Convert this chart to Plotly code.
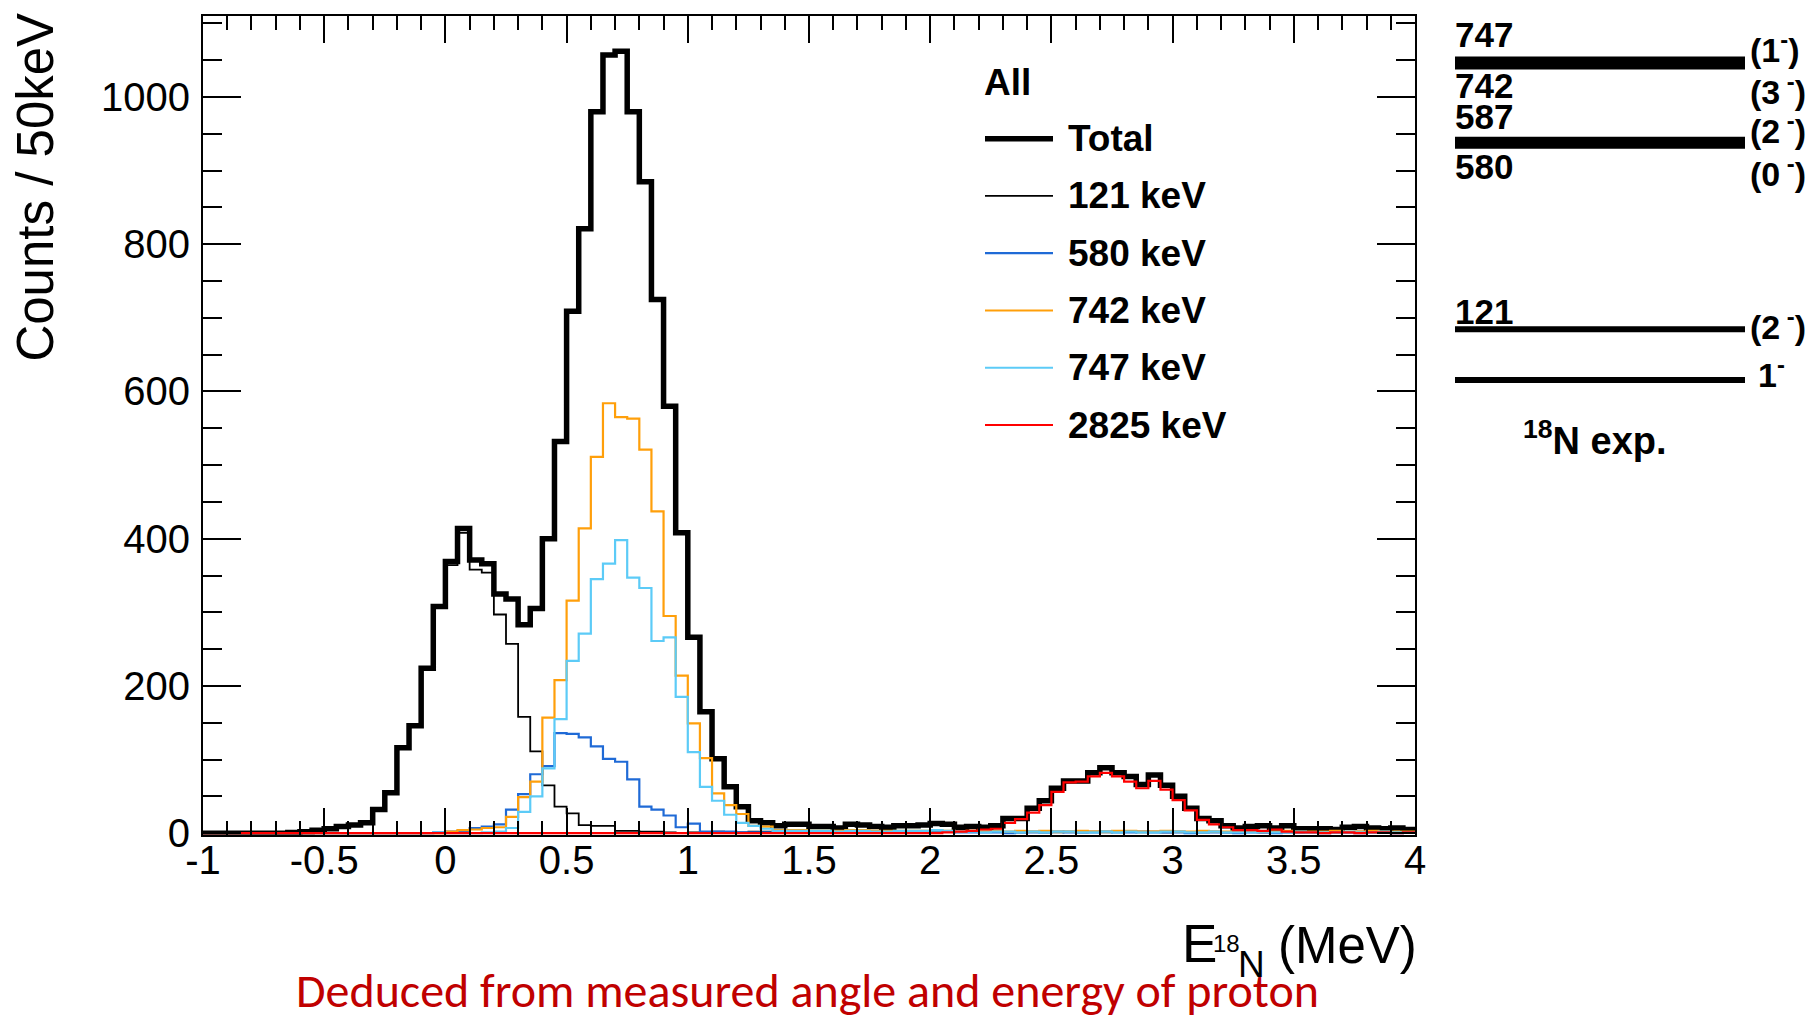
import numpy as np
import plotly.graph_objects as go

# ---------------- data (counts per 50 keV bin, 100 bins from -1 to 4 MeV) -------------
bin_low = -1.0
bin_width = 0.05
n_bins = 100

total = [0, 0, 0, 0, 0, 0, 0, 1, 2, 4,
         6, 9, 11, 14, 32, 55, 116, 146, 224, 308,
         369, 414, 371, 366, 325, 318, 283, 305, 400, 532,
         709, 821, 980, 1057, 1062, 980, 885, 725, 580, 408,
         266, 165, 101, 63, 36, 17, 14, 10, 12, 12,
         9, 9, 7, 12, 11, 9, 8, 10, 10, 11,
         13, 12, 8, 9, 8, 10, 20, 20, 34, 44,
         61, 71, 71, 82, 89, 82, 77, 66, 79, 65,
         50, 34, 20, 17, 10, 7, 9, 10, 7, 10,
         6, 6, 6, 5, 8, 9, 7, 6, 7, 5]

kev121 = [0, 0, 0, 0, 0, 0, 0, 1, 2, 4,
          6, 9, 11, 14, 32, 55, 116, 146, 224, 306,
          364, 408, 358, 354, 297, 257, 158, 111, 65, 36,
          27, 11, 10, 10, 3, 3, 2, 2, 1, 0,
          1, 1, 2, 1, 1, 2, 2, 2, 3, 3,
          2, 2, 1, 3, 3, 2, 2, 3, 2, 3,
          3, 3, 2, 2, 2, 2, 1, 1, 2, 1,
          1, 2, 1, 2, 1, 2, 2, 1, 2, 1,
          2, 1, 1, 2, 1, 1, 2, 1, 2, 1,
          1, 1, 2, 1, 1, 2, 1, 1, 1, 1]

kev580 = [0, 0, 0, 0, 0, 0, 0, 0, 0, 0,
          0, 0, 0, 0, 0, 0, 0, 0, 0, 1,
          2, 3, 7, 9, 12, 32, 53, 80, 91, 136,
          135, 130, 118, 101, 97, 73, 36, 32, 24, 8,
          13, 2, 2, 2, 1, 1, 1, 1, 2, 2,
          1, 1, 1, 2, 1, 2, 1, 1, 2, 2,
          2, 2, 1, 1, 1, 1, 0, 1, 1, 1,
          2, 1, 1, 1, 2, 1, 1, 2, 1, 1,
          1, 0, 1, 1, 1, 0, 1, 1, 0, 1,
          1, 1, 0, 1, 1, 0, 1, 1, 0, 1]

kev742 = [0, 0, 0, 0, 0, 0, 0, 0, 0, 0,
          0, 0, 0, 0, 0, 0, 0, 0, 0, 0,
          2, 4, 5, 7, 8, 22, 49, 70, 157, 208,
          316, 414, 511, 584, 565, 563, 521, 437, 295, 214,
          149, 102, 54, 38, 26, 10, 9, 4, 4, 4,
          3, 3, 3, 4, 4, 3, 3, 3, 3, 3,
          4, 3, 2, 3, 2, 3, 2, 3, 2, 3,
          2, 2, 3, 2, 2, 3, 3, 2, 2, 3,
          2, 2, 3, 2, 2, 2, 3, 2, 2, 3,
          2, 2, 2, 3, 2, 2, 3, 2, 2, 2]

kev747 = [0, 0, 0, 0, 0, 0, 0, 0, 0, 0,
          0, 0, 0, 0, 0, 0, 0, 0, 0, 1,
          0, 0, 0, 1, 2, 7, 29, 50, 88, 155,
          234, 271, 345, 366, 398, 347, 333, 261, 266, 185,
          110, 63, 44, 25, 14, 10, 6, 3, 3, 3,
          3, 3, 2, 3, 3, 2, 2, 3, 3, 3,
          4, 3, 2, 2, 1, 2, 2, 1, 2, 1,
          2, 2, 1, 1, 2, 1, 2, 1, 1, 2,
          2, 1, 1, 2, 1, 1, 1, 2, 1, 1,
          2, 1, 1, 1, 2, 1, 1, 2, 1, 1]

kev2825 = [0, 0, 0, 0, 0, 0, 0, 0, 0, 0,
           0, 0, 0, 0, 0, 0, 0, 0, 0, 0,
           0, 0, 0, 0, 0, 0, 0, 0, 0, 0,
           0, 0, 0, 0, 0, 0, 0, 0, 0, 0,
           0, 0, 0, 0, 0, 0, 0, 0, 0, 0,
           0, 0, 0, 0, 0, 0, 0, 0, 0, 0,
           0, 1, 2, 3, 5, 6, 14, 19, 28, 38,
           56, 69, 70, 77, 82, 77, 70, 61, 71, 59,
           45, 31, 18, 12, 8, 4, 4, 3, 5, 2,
           1, 1, 0, 1, 1, 0, 1, 1, 0, 1]

series_names = ["Total", "121 keV", "580 keV", "742 keV", "747 keV", "2825 keV"]
series_values = [total, kev121, kev580, kev742, kev747, kev2825]
series_colors = ["#000000", "#000000", "#1f6ad6", "#ff9f0a", "#5ccbf7", "#ff0000"]
series_widths = [5.5, 1.8, 2.2, 2.2, 2.2, 2.2]

x_tickvals = [-1, -0.5, 0, 0.5, 1, 1.5, 2, 2.5, 3, 3.5, 4]
x_ticktext = ["-1", "-0.5", "0", "0.5", "1", "1.5", "2", "2.5", "3", "3.5", "4"]
y_tickvals = [0, 200, 400, 600, 800, 1000]
y_ticktext = ["0", "200", "400", "600", "800", "1000"]

level_energies = ["747", "742", "587", "580", "121"]
level_spins = ["(1<sup>-</sup>)", "(3<sup> -</sup>)", "(2<sup> -</sup>)", "(0<sup> -</sup>)",
               "(2<sup> -</sup>)"]

# ---------------- geometry helpers (layout only) ----------------
# the page body has an 8px margin, so the figure is shrunk by that amount and
# every position below is given in the coordinates of the full 1820x1017 window
OFF = 8
W, H = 1820 - OFF, 1017 - OFF
L, R, T, B = 203, 1415, 14, 835      # plot area in window pixels


def px(x):
    return (x - L) / (R - L)


def py(y):
    return (B - y) / (B - T)


FONT = "Liberation Sans, Arial, Helvetica, sans-serif"

edges = np.round(bin_low + bin_width * np.arange(n_bins + 1), 4)

fig = go.Figure()
for name, vals, col, lw in zip(series_names, series_values, series_colors, series_widths):
    yv = list(vals) + [vals[-1]]
    fig.add_trace(go.Scatter(x=edges, y=yv, mode="lines", name=name,
                             line=dict(color=col, width=lw, shape="hv"),
                             showlegend=False, hoverinfo="skip"))

axis_common = dict(showline=True, linewidth=2, linecolor="black", mirror="ticks",
                   ticks="inside", tickwidth=2, tickcolor="black",
                   showgrid=False, zeroline=False,
                   tickfont=dict(family=FONT, size=40, color="black"))

fig.update_xaxes(range=[-1, 4], tickmode="array", tickvals=x_tickvals, ticktext=x_ticktext,
                 ticklen=27, ticklabelstandoff=-11,
                 minor=dict(dtick=0.1, tick0=-1, ticklen=14, tickwidth=2, tickcolor="black",
                            ticks="inside", showgrid=False),
                 **axis_common)
fig.update_yaxes(range=[-2.5, 1110], tickmode="array", tickvals=y_tickvals, ticktext=y_ticktext,
                 ticklen=38, ticklabelstandoff=3,
                 minor=dict(dtick=50, tick0=0, ticklen=19, tickwidth=2, tickcolor="black",
                            ticks="inside", showgrid=False),
                 **axis_common)

annotations = []
shapes = []


def ann(text, x, y, size, xanchor="left", yanchor="middle", bold=False, color="black",
        family=FONT, angle=0):
    annotations.append(dict(text=("<b>%s</b>" % text) if bold else text,
                            x=px(x), y=py(y), xref="paper", yref="paper",
                            xanchor=xanchor, yanchor=yanchor, showarrow=False,
                            textangle=angle,
                            font=dict(family=family, size=size, color=color)))


# axis titles
ann("Counts / 50keV", 36, 186, 51, xanchor="center", yanchor="middle", angle=-90)
ann("(MeV)", 1419, 946, 51, xanchor="right")
ann("N", 1236, 965, 37, xanchor="left")
ann("18", 1242, 944, 24, xanchor="right")
ann("E", 1219, 944, 53, xanchor="right")

# legend (manual, ROOT style)
ann("All", 982, 81, 37, bold=True)
leg_y0, leg_dy = 137, 57.4
for k, (name, col, lw) in enumerate(zip(series_names, series_colors, series_widths)):
    yy = leg_y0 + k * leg_dy
    shapes.append(dict(type="line", xref="paper", yref="paper",
                       x0=px(985), x1=px(1053), y0=py(yy), y1=py(yy),
                       line=dict(color=col, width=lw)))
    ann(name, 1066, yy, 37, bold=True)

# level scheme
level_lines = [(61, 13), (141, 12), (328, 6), (379, 6)]
for yy, lw in level_lines:
    shapes.append(dict(type="line", xref="paper", yref="paper",
                       x0=px(1455), x1=px(1745), y0=py(yy), y1=py(yy),
                       line=dict(color="black", width=lw)))
energy_y = [33, 84, 115, 165, 310]
spin_y = [46, 88, 127, 170, 323]
for lab, spin, ly, sy in zip(level_energies, level_spins, energy_y, spin_y):
    ann(lab, 1453, ly, 35, bold=True)
    ann(spin, 1748, sy, 34, bold=True)
ann("1<sup>-</sup>", 1756, 371, 34, bold=True)
ann("<sup>18</sup>N exp.", 1521, 437, 38, bold=True)

# caption
ann("Deduced from measured angle and energy of proton", 807, 991, 48,
    xanchor="center", color="#c00000", family="Carlito, Lato, Open Sans, sans-serif")

fig.update_layout(width=W, height=H,
                  margin=dict(l=L - OFF, r=W - (R - OFF), t=T - OFF, b=H - (B - OFF), pad=0),
                  paper_bgcolor="white", plot_bgcolor="white",
                  font=dict(family=FONT, color="black"),
                  showlegend=False,
                  annotations=annotations, shapes=shapes)

fig.write_html("out.html")
